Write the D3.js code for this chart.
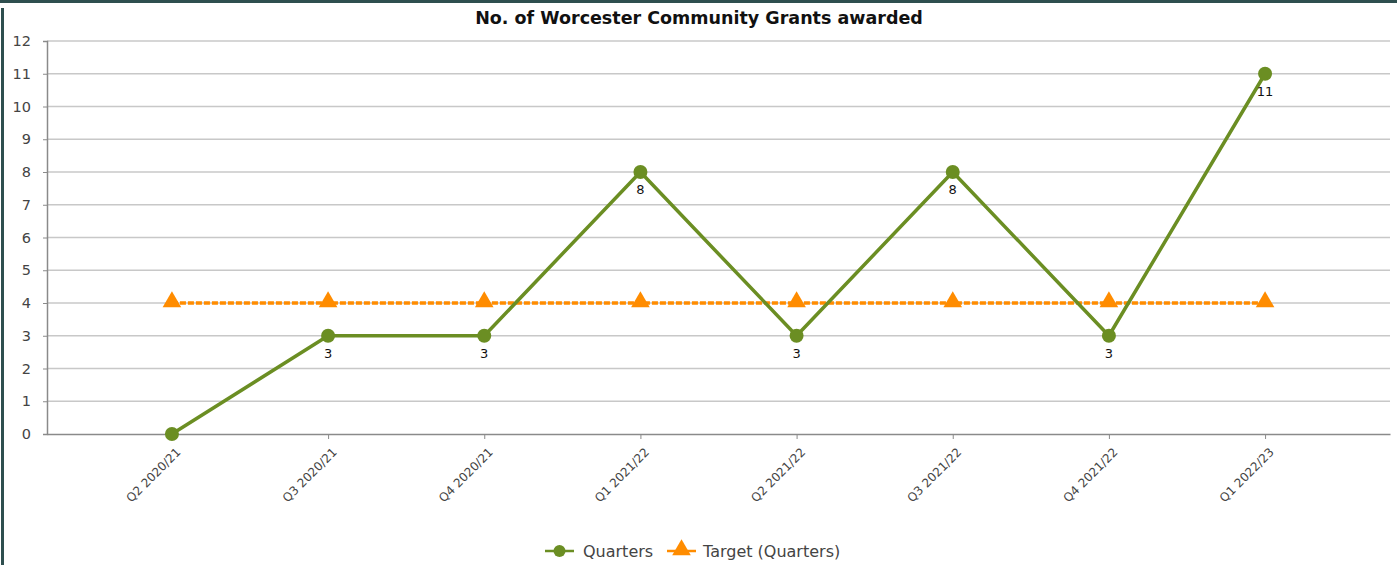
<!DOCTYPE html>
<html>
<head>
<meta charset="utf-8">
<script src="https://cdn.jsdelivr.net/npm/d3@7"></script>
<style>
  body { margin: 0; background: #fff; }
  #main { width: 1397px; height: 565px; }
  text { font-family: "DejaVu Sans", Verdana, sans-serif; }
</style>
</head>
<body>
<div id="main"></div>
<script>
// DATA
const quarters = ["Q2 2020/21", "Q3 2020/21", "Q4 2020/21", "Q1 2021/22",
                  "Q2 2021/22", "Q3 2021/22", "Q4 2021/22", "Q1 2022/23"]
const actual = [0, 3, 3, 8, 3, 8, 3, 11]
const target = [4, 4, 4, 4, 4, 4, 4, 4]
const yTicks = d3.range(0, 13)

// COLORS
const green = '#6b8e23'
const orange = '#ff8c00'
const grid = '#c8c8c8'
const axisCol = '#8a8a8a'

let width = 1397
let height = 565
let margin = {top: 40, right: 7, bottom: 131, left: 47}

let svg = d3.select("#main").append("svg")
    .attr("width", width)
    .attr("height", height)

// frame
svg.append("rect").attr("x", 0).attr("y", 0).attr("width", width).attr("height", 3).attr("fill", "#2f4f4f")
svg.append("rect").attr("x", 1).attr("y", 8).attr("width", 3).attr("height", height - 8).attr("fill", "#2f4f4f")

let x = d3.scalePoint()
    .domain(quarters)
    .range([margin.left, width - margin.right])
    .padding(0.8)

let y = d3.scaleLinear()
    .domain([0, 12])
    .range([height - margin.bottom, margin.top + 1])

// title
svg.append("text")
    .attr("x", 699).attr("y", 24)
    .attr("text-anchor", "middle")
    .attr("font-size", 17.5).attr("font-weight", "bold")
    .attr("fill", "#111")
    .text("No. of Worcester Community Grants awarded")

// gridlines
svg.append("g")
  .selectAll("line")
  .data(yTicks.filter(d => d > 0))
  .enter().append("line")
    .attr("x1", margin.left).attr("x2", width - margin.right)
    .attr("y1", d => y(d)).attr("y2", d => y(d))
    .attr("stroke", grid).attr("stroke-width", 1.5)

// y axis
let yAxis = svg.append("g")
    .attr("transform", `translate(${margin.left},0)`)
    .call(d3.axisLeft(y).tickValues(yTicks).tickSize(4).tickPadding(12).tickFormat(d3.format("d")))
yAxis.select(".domain").attr("stroke", axisCol).attr("stroke-width", 1.5)
yAxis.selectAll(".tick line").attr("stroke", axisCol)
yAxis.selectAll("text").attr("font-size", 14.5).attr("fill", "#444")
    .style("font-family", "'DejaVu Sans', Verdana, sans-serif")

// x axis
let xAxis = svg.append("g")
    .attr("transform", `translate(0,${height - margin.bottom})`)
    .call(d3.axisBottom(x).tickSize(5).tickSizeOuter(0))
xAxis.select(".domain").attr("stroke", axisCol).attr("stroke-width", 1.5)
xAxis.selectAll(".tick line").attr("stroke", axisCol)
xAxis.selectAll("text")
    .attr("font-size", 12).attr("fill", "#444")
    .style("font-family", "'DejaVu Sans', Verdana, sans-serif")
    .attr("text-anchor", "end")
    .attr("y", 0).attr("dy", "0.35em")
    .attr("transform", "translate(6,16) rotate(-45)")

// target line
let line = d3.line()
    .x((d, i) => x(quarters[i]))
    .y(d => y(d))

svg.append("path")
    .datum(target)
    .attr("d", line)
    .attr("fill", "none")
    .attr("stroke", orange).attr("stroke-width", 3.5)
    .attr("stroke-dasharray", "6,2")

let tri = d3.symbol().type(d3.symbolTriangle).size(150)
svg.append("g")
  .selectAll("path")
  .data(target)
  .enter().append("path")
    .attr("d", tri)
    .attr("transform", (d, i) => `translate(${x(quarters[i])},${y(d) - 1})`)
    .attr("fill", orange)

// actual line
svg.append("path")
    .datum(actual)
    .attr("d", line)
    .attr("fill", "none")
    .attr("stroke", green).attr("stroke-width", 3.5)
    .attr("stroke-linejoin", "round")

svg.append("g")
  .selectAll("circle")
  .data(actual)
  .enter().append("circle")
    .attr("cx", (d, i) => x(quarters[i]))
    .attr("cy", d => y(d))
    .attr("r", 7)
    .attr("fill", green)

// data labels (zero has none)
let labelled = actual.map((v, i) => ({q: quarters[i], v: v})).filter(d => d.v > 0)
svg.append("g")
  .selectAll("text")
  .data(labelled)
  .enter().append("text")
    .attr("x", d => x(d.q))
    .attr("y", d => y(d.v) + 22)
    .attr("text-anchor", "middle")
    .attr("font-size", 13)
    .attr("fill", "#111")
    .text(d => d.v)

// legend
let legend = svg.append("g").attr("transform", "translate(0,551)")
legend.append("line").attr("x1", 545).attr("x2", 574).attr("stroke", green).attr("stroke-width", 2.5)
legend.append("circle").attr("cx", 559.5).attr("cy", 0).attr("r", 6).attr("fill", green)
legend.append("text").attr("x", 583).attr("y", 0).attr("dy", "0.35em")
    .attr("font-size", 16).attr("fill", "#444").text("Quarters")
legend.append("line").attr("x1", 667).attr("x2", 696).attr("stroke", orange).attr("stroke-width", 2.5)
legend.append("path").attr("d", tri).attr("transform", "translate(681.5,-1)").attr("fill", orange)
legend.append("text").attr("x", 703).attr("y", 0).attr("dy", "0.35em")
    .attr("font-size", 16).attr("fill", "#444").text("Target (Quarters)")
</script>
</body>
</html>
